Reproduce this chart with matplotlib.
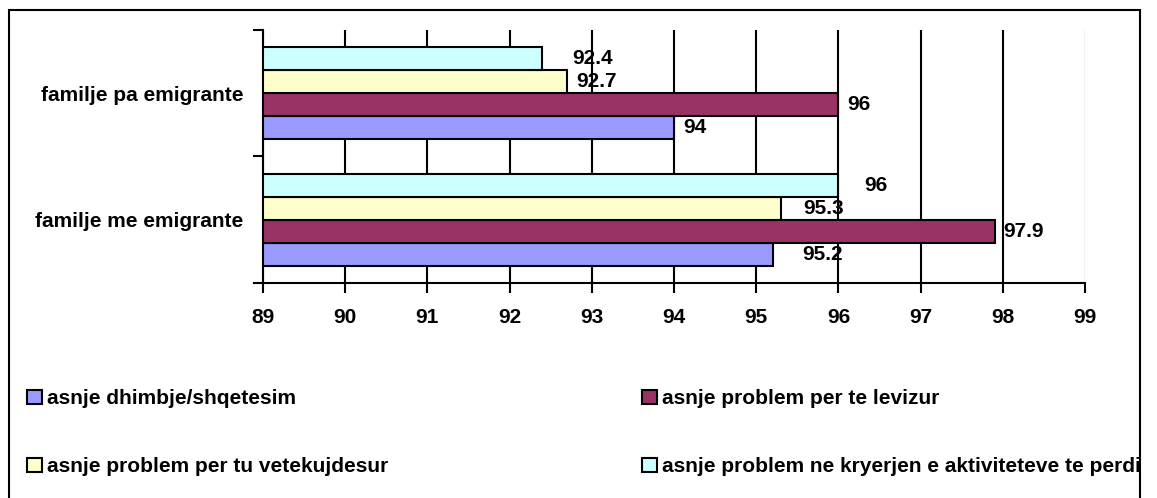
import matplotlib.pyplot as plt
from matplotlib.patches import Rectangle
import numpy as np

plt.rcParams['font.family'] = ['Liberation Sans', 'DejaVu Sans']
plt.rcParams['font.weight'] = 'bold'
plt.rcParams['font.size'] = 15

categories = ['familje me emigrante', 'familje pa emigrante']
series_names = [
    'asnje dhimbje/shqetesim',
    'asnje problem per te levizur',
    'asnje problem per tu vetekujdesur',
    'asnje problem ne kryerjen e aktiviteteve te perditshme',
]
dhimbje = [95.2, 94]
levizur = [97.9, 96]
vetekujdesur = [95.3, 92.7]
aktivitete = [96, 92.4]
x_ticks = [89, 90, 91, 92, 93, 94, 95, 96, 97, 98, 99]

colors = ['#9999FF', '#993366', '#FFFFCC', '#CCFFFF']
# gap (in pixels) between the bar end and its value label, per series / category
label_gap = [[30, 9], [9, 9], [22, 9], [26, 30]]

W, H = 1157, 498
fig = plt.figure(figsize=(W / 100, H / 100), dpi=100)
ax = fig.add_axes([263 / W, 1 - 283 / H, (1085 - 263) / W, (283 - 30) / H])

y = np.arange(len(categories))
h = 0.181
values = [dhimbje, levizur, vetekujdesur, aktivitete]
bars = []
for i, (vals, col) in enumerate(zip(values, colors)):
    b = ax.barh(y + (i - 1.5) * h, [v - 89 for v in vals], left=89, height=h,
                color=col, edgecolor='black', linewidth=1.5, zorder=3)
    bars.append(b)
    for j, v in enumerate(vals):
        ax.annotate(f'{v:g}', (v, y[j] + (i - 1.5) * h),
                    xytext=(label_gap[i][j] * 0.72, 0), textcoords='offset points',
                    ha='left', va='center', fontsize=15, fontweight='bold', zorder=4)

ax.set_xlim(89, 99)
ax.set_ylim(-0.5, 1.5)
ax.set_xticks(x_ticks)
ax.set_yticks([-0.5, 0.5, 1.5])
ax.set_yticklabels([])
ax.set_yticks(y, minor=True)
ax.set_yticklabels(categories, minor=True)
ax.tick_params(axis='y', which='minor', length=0, pad=14)
ax.tick_params(axis='both', which='major', length=7, width=1.5, color='black')
ax.tick_params(axis='x', pad=11)

ax.set_axisbelow(True)
ax.xaxis.grid(True, color='black', linewidth=1.5)
ax.get_xgridlines()[-1].set_color('#c0c0c0')
ax.get_xgridlines()[-1].set_linewidth(1)
for s in ['top', 'right']:
    ax.spines[s].set_visible(False)
for s in ['left', 'bottom']:
    ax.spines[s].set_linewidth(1.5)

handles = [bars[0], bars[2], bars[1], bars[3]]
labels = [series_names[0], series_names[2], series_names[1], series_names[3]]
fig.legend(handles, labels, ncol=2, loc='upper left', bbox_to_anchor=(27 / W, 1 - 389 / H),
           frameon=False, handlelength=0.72, handleheight=0.67, handletextpad=0.26,
           columnspacing=12.14, labelspacing=2.35, borderaxespad=0, borderpad=0)

# mask anything beyond the outer frame, then draw the frame
fig.patches.append(Rectangle((1141 / W, 0), 1, 1, transform=fig.transFigure,
                             facecolor='white', edgecolor='none', zorder=10))
fig.patches.append(Rectangle((9 / W, -0.05), (1140 - 9) / W, 1.05 - 10 / H,
                             transform=fig.transFigure, fill=False,
                             edgecolor='black', linewidth=1.5, zorder=11))

fig.savefig('out.png', dpi=100)
